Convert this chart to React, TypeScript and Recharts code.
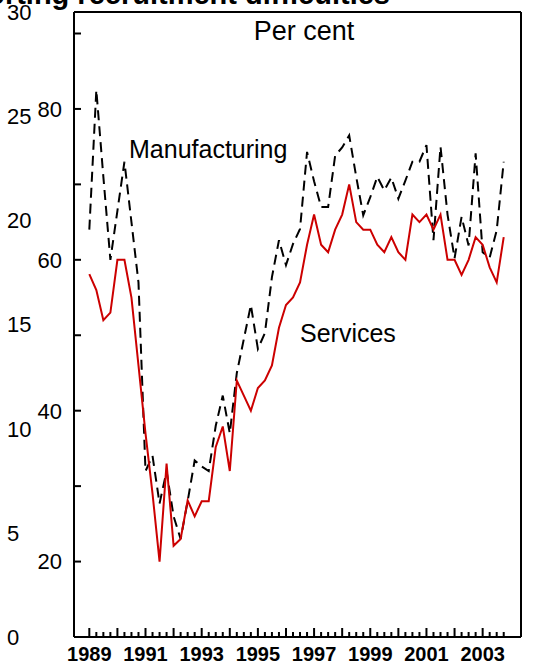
import React from 'react';
import { LineChart, Line, XAxis, YAxis } from 'recharts';

const years = [1989, 1990, 1991, 1992, 1993, 1994, 1995, 1996, 1997, 1998, 1999, 2000, 2001, 2002, 2003];
const quarterNames = ['Q1', 'Q2', 'Q3', 'Q4'];

const manufacturing = [
  64, 82.5, 71, 60, 66.5, 73, 65, 57,
  32, 34, 27.7, 32, 26, 23, 28, 33.4,
  32.6, 32, 38, 42, 37, 45, 49.5, 54,
  48.2, 50.3, 57.7, 62.6, 59.3, 62.1, 64.1, 74.3,
  70.4, 67, 67, 73.8, 74.9, 76.5, 71, 65.9,
  68.3, 71, 69.2, 70.9, 68.1, 70.5, 73, 73,
  75.2, 62.6, 75, 66, 60.2, 65.7, 61.9, 74.1,
  61, 60.3, 63.9, 73,
];

const services = [
  58.1, 56, 52, 53, 60, 60, 55, 46,
  37, 29, 20, 33, 22.1, 23, 28.1, 26,
  28, 28, 35.2, 37.9, 32, 44, 42, 40,
  43, 44, 46, 51, 54, 55, 57, 62,
  66, 62, 61, 64, 66, 70, 65, 64,
  64, 62, 61, 63, 61, 60, 66, 65,
  66, 64, 66, 60, 60, 58, 60, 63,
  62, 59, 57, 63,
];

const leftTicks = [20, 30, 40, 50, 60, 70, 80, 90];
const labelledLeftTicks = [20, 40, 60, 80];
const secondaryTicks = [0, 5, 10, 15, 20, 25, 30];
const labelledYears = [1989, 1991, 1993, 1995, 1997, 1999, 2001, 2003];

const quarters = years.flatMap((y) => quarterNames.map((q) => `${y} ${q}`));
const data = quarters.map((label, i) => ({
  idx: i,
  label,
  manufacturing: manufacturing[i],
  services: services[i],
}));
const xTicks = data.map((d) => d.idx);

const FONT = 'Liberation Sans, Arial, sans-serif';

const XTick = (props: any) => {
  const { x, y, payload } = props;
  const i = payload.value as number;
  const major = i % 4 === 0;
  const year = years[Math.floor(i / 4)];
  return (
    <g>
      <line x1={x} x2={x} y1={y} y2={y - (major ? 9 : 5)} stroke="#000" strokeWidth={2} />
      {major && labelledYears.includes(year) && (
        <text x={x} y={y + 24} textAnchor="middle" fontFamily={FONT} fontWeight="bold" fontSize={20} fill="#000">
          {year}
        </text>
      )}
    </g>
  );
};

const LeftTick = (props: any) => {
  const { x, y, payload } = props;
  const v = payload.value as number;
  return (
    <g>
      <line x1={x} x2={x + 7} y1={y} y2={y} stroke="#000" strokeWidth={2} />
      {labelledLeftTicks.includes(v) && (
        <text x={x - 12} y={y} dy="0.36em" textAnchor="end" fontFamily={FONT} fontSize={22} fill="#000">
          {v}
        </text>
      )}
    </g>
  );
};

const RightTick = (props: any) => {
  const { x, y, payload } = props;
  const v = payload.value as number;
  return (
    <g>
      <line x1={x} x2={x - 7} y1={y} y2={y} stroke="#000" strokeWidth={2} />
      {labelledLeftTicks.includes(v) && (
        <text x={x + 9} y={y} dy="0.36em" textAnchor="start" fontFamily={FONT} fontSize={22} fill="#000">
          {v}
        </text>
      )}
    </g>
  );
};

const SecondaryTick = (props: any) => {
  const { y, payload } = props;
  return (
    <text x={7} y={y} dy="0.36em" textAnchor="start" fontFamily={FONT} fontSize={22} fill="#000">
      {payload.value}
    </text>
  );
};

export default function App() {
  return (
    <div style={{ position: 'absolute', left: 0, top: 0, width: 559, height: 663, background: '#fff' }}>
      <LineChart width={559} height={663} data={data} margin={{ top: 0, right: 0, bottom: 0, left: 0 }}>
        <XAxis
          dataKey="idx"
          type="number"
          domain={[-2.18, 61.46]}
          ticks={xTicks}
          interval={0}
          tickSize={0}
          tickMargin={0}
          tickLine={false}
          tick={<XTick />}
          axisLine={{ stroke: '#000', strokeWidth: 2 }}
          height={26}
        />
        <XAxis
          xAxisId="top"
          orientation="top"
          dataKey="idx"
          type="number"
          domain={[-2.18, 61.46]}
          tick={false}
          tickLine={false}
          axisLine={{ stroke: '#000', strokeWidth: 2 }}
          height={12}
        />
        <YAxis
          yAxisId="left"
          type="number"
          domain={[10, 92.85]}
          ticks={leftTicks}
          interval={0}
          width={44}
          tickSize={0}
          tickMargin={0}
          tickLine={false}
          tick={<LeftTick />}
          axisLine={{ stroke: '#000', strokeWidth: 2 }}
        />
        <YAxis
          yAxisId="sec"
          type="number"
          domain={[0, 30]}
          allowDataOverflow
          ticks={secondaryTicks}
          interval={0}
          width={30}
          tickSize={0}
          tickMargin={0}
          tickLine={false}
          tick={<SecondaryTick />}
          axisLine={false}
        />
        <YAxis
          yAxisId="right"
          orientation="right"
          type="number"
          domain={[10, 92.85]}
          ticks={leftTicks}
          interval={0}
          width={38}
          tickSize={0}
          tickMargin={0}
          tickLine={false}
          tick={<RightTick />}
          axisLine={{ stroke: '#000', strokeWidth: 2 }}
        />
        <Line
          yAxisId="left"
          type="linear"
          dataKey="manufacturing"
          stroke="#000"
          strokeWidth={2}
          strokeDasharray="10 6"
          dot={false}
          activeDot={false}
          isAnimationActive={false}
        />
        <Line
          yAxisId="left"
          type="linear"
          dataKey="services"
          stroke="#cc0000"
          strokeWidth={2}
          dot={false}
          activeDot={false}
          isAnimationActive={false}
        />
        <Line
          yAxisId="sec"
          type="linear"
          dataKey="none"
          stroke="none"
          dot={false}
          activeDot={false}
          legendType="none"
          isAnimationActive={false}
        />
      </LineChart>
      <svg width={559} height={663} style={{ position: 'absolute', left: 0, top: 0, pointerEvents: 'none' }}>
        <text x={390} y={4} textAnchor="end" fontFamily={FONT} fontWeight="bold" fontSize={29} fill="#000">
          Firms reporting recruitment difficulties
        </text>
        <text x={304} y={40} textAnchor="middle" fontFamily={FONT} fontSize={27} fill="#000">
          Per cent
        </text>
        <text x={129} y={158} textAnchor="start" fontFamily={FONT} fontSize={25} fill="#000">
          Manufacturing
        </text>
        <text x={300} y={342} textAnchor="start" fontFamily={FONT} fontSize={25} fill="#000">
          Services
        </text>
      </svg>
    </div>
  );
}
